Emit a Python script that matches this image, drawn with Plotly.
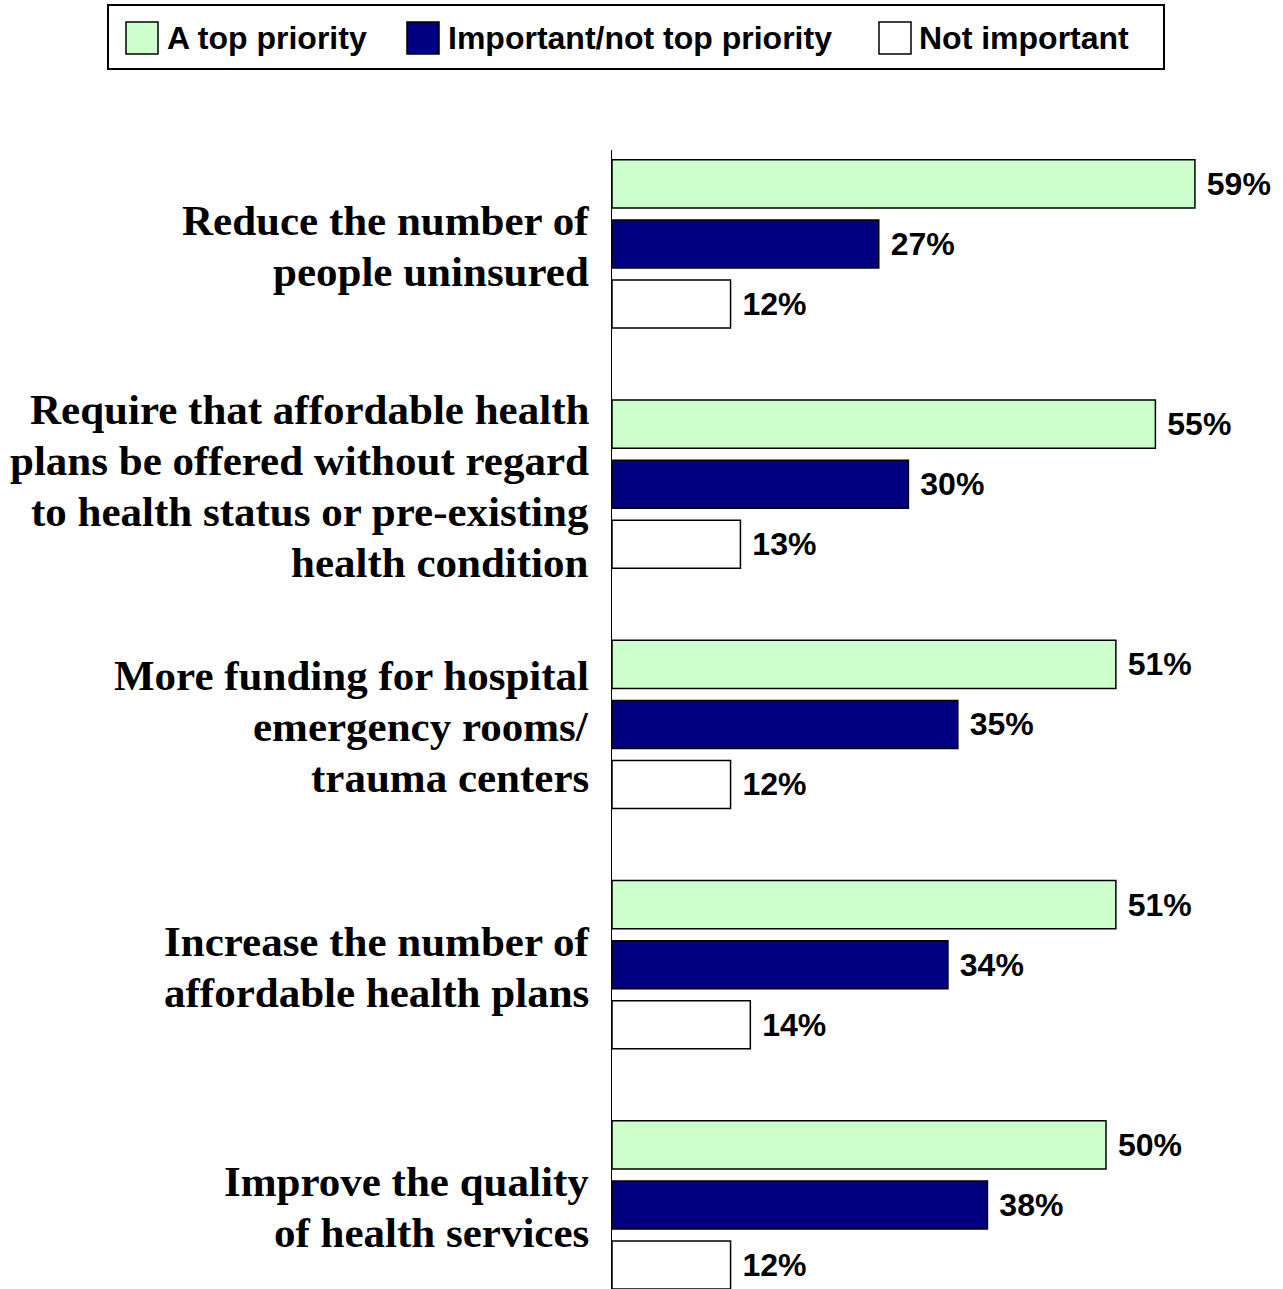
import plotly.graph_objects as go

W, H = 1283, 1289

categories = [
    "Reduce the number of<br>people uninsured",
    "Require that affordable health<br>plans be offered without regard<br>to health status or pre-existing<br>health condition",
    "More funding for hospital<br>emergency rooms/<br>trauma centers",
    "Increase the number of<br>affordable health plans",
    "Improve the quality<br>of health services",
]
series_names = ["A top priority", "Important/not top priority", "Not important"]
top_priority = [59, 55, 51, 51, 50]
important_not_top = [27, 30, 35, 34, 38]
not_important = [12, 13, 12, 14, 12]
series_values = [top_priority, important_not_top, not_important]
colors = ["#CCFFCC", "#000080", "#FFFFFF"]

sans = "Liberation Sans, Arial, sans-serif"
serif = "Liberation Serif, Times New Roman, serif"

fig = go.Figure()
for name, vals, col in zip(series_names, series_values, colors):
    fig.add_trace(go.Bar(
        name=name, y=categories, x=vals, orientation="h",
        marker=dict(color=col, line=dict(color="black", width=1.5)),
        texttemplate="\u00a0%{x}%", textposition="outside",
        textfont=dict(family=sans, size=32, color="black", weight="bold"),
        constraintext="none", cliponaxis=False, showlegend=False,
        hoverinfo="skip",
    ))

# axis geometry
x0_px, y_top_px = 612, 150
px_per_unit = 9.88
fig.update_layout(
    width=W, height=H, template="none",
    margin=dict(l=0, r=0, t=0, b=0),
    paper_bgcolor="white", plot_bgcolor="white",
    barmode="group", bargap=0.25, bargroupgap=0.2,
    xaxis=dict(domain=[x0_px / W, 1], range=[0, (W - x0_px) / px_per_unit],
               showgrid=False, zeroline=False, showline=False,
               showticklabels=False, ticks="", automargin=False, fixedrange=True),
    yaxis=dict(domain=[0, 1 - y_top_px / H], type="category",
               categoryorder="array", categoryarray=categories,
               range=[4.35, -0.391],
               showgrid=False, zeroline=False, showline=True,
               linecolor="black", linewidth=1.2, ticks="",
               showticklabels=False, automargin=False),
    showlegend=False,
)

# category labels: one annotation per line, tighter line pitch like the original
line_pitch = 51
label_right_px = 591
for cat in categories:
    lines = cat.split("<br>")
    n = len(lines)
    for k, ln in enumerate(lines):
        fig.add_annotation(
            xref="paper", yref="y", x=label_right_px / W, y=cat,
            xanchor="right", yanchor="middle", text=ln, showarrow=False,
            yshift=-(k - (n - 1) / 2) * line_pitch - 2,
            font=dict(family=serif, size=43, color="black", weight="bold"))

# custom legend
shapes = [dict(type="rect", xref="paper", yref="paper",
               x0=108 / W, x1=1164 / W, y0=1 - 69 / H, y1=1 - 5 / H,
               line=dict(color="black", width=2), fillcolor="white", layer="above")]
sq_x = [126, 407, 879]
txt_x = [165, 446, 917]
for sx, tx, name, col in zip(sq_x, txt_x, series_names, colors):
    shapes.append(dict(type="rect", xref="paper", yref="paper",
                       x0=sx / W, x1=(sx + 32) / W, y0=1 - 54 / H, y1=1 - 22 / H,
                       line=dict(color="black", width=1.5), fillcolor=col, layer="above"))
    fig.add_annotation(xref="paper", yref="paper", x=tx / W, y=1 - 38 / H,
                       xanchor="left", yanchor="middle", text=name, showarrow=False,
                       font=dict(family=sans, size=32, color="black", weight="bold"))
fig.update_layout(shapes=shapes)

fig.write_html("out.html", config={"displayModeBar": False},
               post_script="document.body.style.margin='0';")
